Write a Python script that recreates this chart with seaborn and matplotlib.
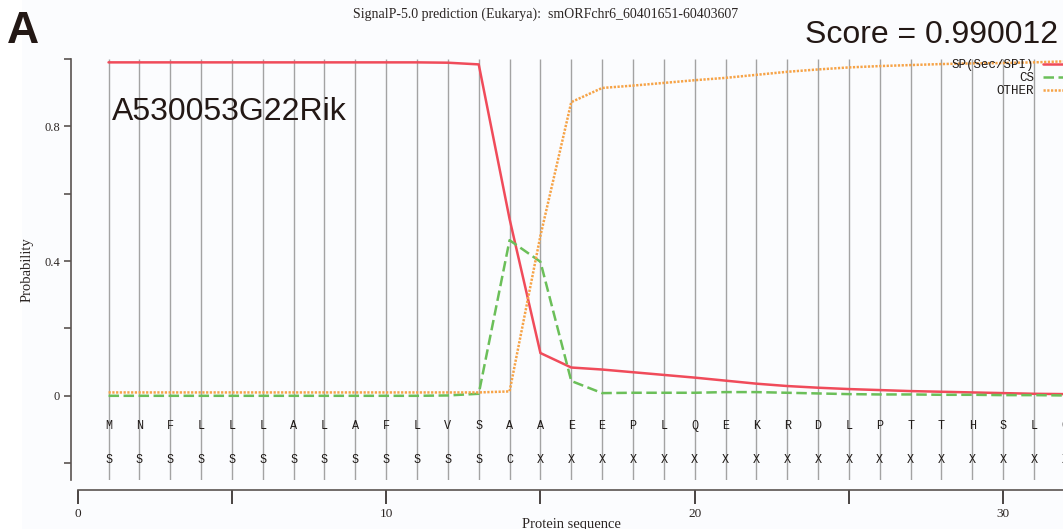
import matplotlib
matplotlib.use("Agg")
import matplotlib.pyplot as plt
import seaborn as sns
import pandas as pd
from matplotlib.patches import Rectangle

# ---- data -------------------------------------------------------------
positions = list(range(1, 33))
residues = ["M", "N", "F", "L", "L", "L", "A", "L", "A", "F", "L", "V", "S",
            "A", "A", "E", "E", "P", "L", "Q", "E", "K", "R", "D", "L", "P",
            "T", "T", "H", "S", "L", "G"]
labels = ["S", "S", "S", "S", "S", "S", "S", "S", "S", "S", "S", "S", "S",
          "C", "X", "X", "X", "X", "X", "X", "X", "X", "X", "X", "X", "X",
          "X", "X", "X", "X", "X", "X"]
sp = [0.990, 0.990, 0.990, 0.990, 0.990, 0.990, 0.990, 0.990, 0.990, 0.990,
      0.990, 0.989, 0.984, 0.525, 0.127, 0.084, 0.078, 0.070, 0.062, 0.054,
      0.045, 0.036, 0.029, 0.024, 0.020, 0.017, 0.014, 0.012, 0.010, 0.008,
      0.006, 0.005]
cs = [0.000, 0.000, 0.000, 0.000, 0.000, 0.000, 0.000, 0.000, 0.000, 0.000,
      0.000, 0.001, 0.006, 0.462, 0.398, 0.044, 0.008, 0.009, 0.009, 0.009,
      0.011, 0.011, 0.009, 0.007, 0.005, 0.004, 0.004, 0.003, 0.003, 0.002,
      0.002, 0.001]
other = [0.010, 0.010, 0.010, 0.010, 0.010, 0.010, 0.010, 0.010, 0.010, 0.010,
         0.010, 0.010, 0.010, 0.013, 0.475, 0.872, 0.914, 0.921, 0.929, 0.937,
         0.944, 0.953, 0.962, 0.969, 0.975, 0.979, 0.982, 0.985, 0.987, 0.988,
         0.990, 0.993]
series_names = ["SP(Sec/SPI)", "CS", "OTHER"]

title = "SignalP-5.0 prediction (Eukarya):  smORFchr6_60401651-60403607"
gene = "A530053G22Rik"
score_text = "Score = 0.990012"

# ---- styling ----------------------------------------------------------
sns.set_theme(style="white")
plt.rcParams["font.family"] = ["Liberation Serif", "DejaVu Serif"]

W, H = 1063, 529
bg = "#fbfcfe"
ink = "#2b2523"
fig = plt.figure(figsize=(W / 100, H / 100), dpi=100, facecolor=bg)
fig.patches.append(Rectangle((0, 0), 22 / W, 1, transform=fig.transFigure,
                             facecolor="white", edgecolor="none", zorder=-10))

ax = fig.add_axes([71 / W, (H - 480) / H, (W - 71) / W, 421 / H])
ax.set_facecolor("none")

df = pd.DataFrame({
    "pos": positions * 3,
    "prob": sp + cs + other,
    "series": [series_names[0]] * 32 + [series_names[1]] * 32 + [series_names[2]] * 32,
})
palette = {"SP(Sec/SPI)": "#F04B5A", "CS": "#6BBF59", "OTHER": "#F6A347"}
dashes = {"SP(Sec/SPI)": "", "CS": (4.2, 1.8), "OTHER": (0.9, 0.6)}
sns.lineplot(data=df, x="pos", y="prob", hue="series", style="series",
             palette=palette, dashes=dashes, hue_order=series_names,
             style_order=series_names, linewidth=1.8, ax=ax, legend=False,
             zorder=3)

# position grid lines
ax.vlines(positions, -0.25, 1.0, color="#a3a3a3", linewidth=1.0, zorder=1)

# residue letters and annotation row
for p, r, l in zip(positions, residues, labels):
    ax.text(p, -0.09, r, ha="center", va="center", fontsize=8.5,
            family="Liberation Mono", color="#1f1a18", zorder=4)
    ax.text(p, -0.19, l, ha="center", va="center", fontsize=8.5,
            family="Liberation Mono", color="#1f1a18", zorder=4)

ax.set_xlim(-0.217, 31.94)
ax.set_ylim(-0.25, 1.0)

# axes
for side in ["top", "right"]:
    ax.spines[side].set_visible(False)
ax.spines["left"].set_color("#5a5350")
ax.spines["bottom"].set_color("#5a5350")
ax.spines["left"].set_linewidth(1.2)
ax.spines["bottom"].set_linewidth(1.2)
ax.spines["bottom"].set_position(("outward", 7))
ax.spines["bottom"].set_bounds(0, 32)

ax.set_yticks([-0.2, 0, 0.2, 0.4, 0.6, 0.8, 1.0])
ax.set_yticklabels(["", "0", "", "0.4", "", "0.8", ""])
ax.set_xticks([0, 5, 10, 15, 20, 25, 30])
ax.set_xticklabels(["0", "", "10", "", "20", "", "30"])
ax.tick_params(axis="y", direction="out", length=5, width=1.2, color="#5a5350",
               labelsize=9, labelcolor=ink, pad=3, left=True)
ax.tick_params(axis="x", direction="out", length=10, width=1.2, color="#2b2523",
               labelsize=9.5, labelcolor=ink, pad=3, bottom=True)

ax.set_ylabel("Probability", fontsize=10.5, color=ink)
ax.yaxis.set_label_coords(-0.038, 0.5)
ax.set_xlabel("Protein sequence", fontsize=10.5, color=ink)
ax.xaxis.set_label_coords(0.504, -0.09)

# legend: label text to the left of the line sample
handles = [plt.Line2D([], [], color=palette[n], linewidth=1.8,
                      linestyle=(0, dashes[n]) if dashes[n] else "-")
           for n in series_names]
fig.legend(handles, series_names, loc="upper right",
           bbox_to_anchor=(1068 / W, (H - 59) / H), markerfirst=False,
           frameon=False, prop={"family": "Liberation Mono", "size": 9},
           labelcolor="#1f1a18", handlelength=2.0, handletextpad=0.7,
           labelspacing=0.1, borderpad=0, borderaxespad=0)

# titles and annotations
fig.text(546 / W, 1 - 14 / H, title, ha="center", va="center",
         fontsize=10, color=ink)
fig.text(1058 / W, 1 - 43 / H, score_text, ha="right", va="baseline",
         fontsize=23, family="Liberation Sans", color="#231815")
fig.text(7 / W, 1 - 43 / H, "A", ha="left", va="baseline", fontsize=32,
         family="Liberation Sans", fontweight="bold", color="#231815")
fig.text(112 / W, 1 - 120 / H, gene, ha="left", va="baseline", fontsize=23,
         family="Liberation Sans", color="#231815")

fig.savefig("out.png", dpi=100, facecolor=bg)
